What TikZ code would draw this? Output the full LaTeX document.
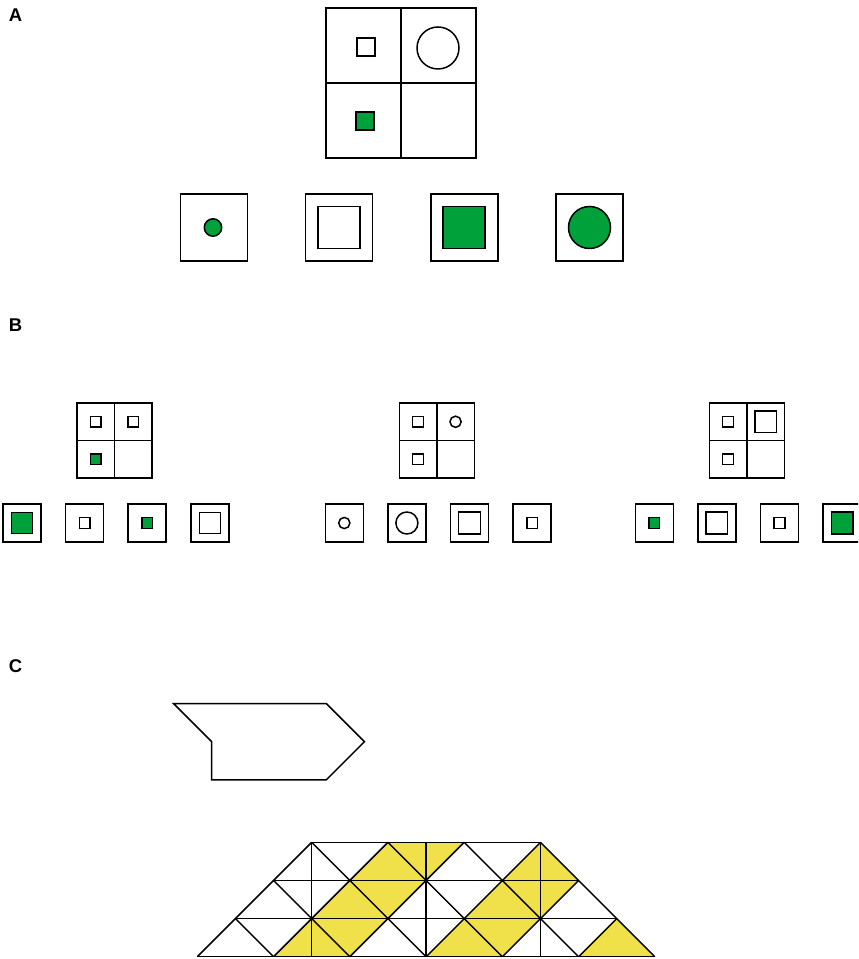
\documentclass[tikz,border=0pt]{standalone}
\usepackage{fontspec}
\setsansfont{Liberation Sans}
\definecolor{shapegreen}{RGB}{0,160,58}
\definecolor{tileyellow}{RGB}{240,224,74}

\tikzset{
    wsq/.pic={\draw (-#1,-#1) rectangle (#1,#1);},
    gsq/.pic={\draw[fill=shapegreen] (-#1,-#1) rectangle (#1,#1);},
    wcirc/.pic={\draw (0,0) circle[radius=#1];},
    gcirc/.pic={\draw[fill=shapegreen] (0,0) circle[radius=#1];},
    panellabel/.style={font=\sffamily\bfseries\fontsize{10.5}{12}\selectfont}
}

\begin{document}
\begin{tikzpicture}[
    x=0.02cm, y=-0.02cm,
    line width=0.85pt
]
% page: 858 x 959 units, y going down
\useasboundingbox (0,0) rectangle (858,959);
\clip (0,0) rectangle (858,959);

% Panel labels
\node[panellabel] (labA) at (15.5,15.5) {A};
\node[panellabel] (labB) at (15.5,325) {B};
\node[panellabel] (labC) at (15.5,666) {C};

% ---------- Panel A ----------
% matrix 2x2
\draw (326,8) rectangle (476,158);
\draw (401,8) -- (401,158);
\draw (326,83) -- (476,83);
\pic at (366,47) {wsq=9};
\pic at (438,48) {wcirc=21};
\pic at (365,121) {gsq=9};

% answer options
\foreach \k in {0,...,3}
    \draw (180.5+\k*125.2,194) rectangle ++(67,67);
\pic at (213,227.5) {gcirc=8.7};
\pic at (339,227.5) {wsq=21};
\pic at (464,227.5) {gsq=21};
\pic at (589.5,227.5) {gcirc=21};

% ---------- Panel B ----------
% matrix + option boxes for each of the three items
\foreach \gx in {3,325.3,635.3} {
    \begin{scope}[shift={(\gx,0)}]
        \draw (74,403) rectangle (149,478);
        \draw (111.5,403) -- (111.5,478);
        \draw (74,440.5) -- (149,440.5);
        \foreach \k in {0,...,3}
            \draw (\k*62.6,504) rectangle ++(38,38);
    \end{scope}
}

% item 1
\begin{scope}[shift={(3,0)}]
    \pic at (92.75,421.75) {wsq=5.35};
    \pic at (130.25,421.75) {wsq=5.35};
    \pic at (92.75,459.25) {gsq=5.35};
    \pic at (19,523) {gsq=10.5};
    \pic at (81.6,523) {wsq=5.35};
    \pic at (144.2,523) {gsq=5.35};
    \pic at (206.8,523) {wsq=10.5};
\end{scope}

% item 2
\begin{scope}[shift={(325.3,0)}]
    \pic at (92.75,421.75) {wsq=5.35};
    \pic at (130.25,421.75) {wcirc=5.6};
    \pic at (92.75,459.25) {wsq=5.35};
    \pic at (19,523) {wcirc=5.6};
    \pic at (81.6,523) {wcirc=11};
    \pic at (144.2,523) {wsq=10.8};
    \pic at (206.8,523) {wsq=5.35};
\end{scope}

% item 3
\begin{scope}[shift={(635.3,0)}]
    \pic at (92.75,421.75) {wsq=5.35};
    \pic at (130.25,421.75) {wsq=10.8};
    \pic at (92.75,459.25) {wsq=5.35};
    \pic at (19,523) {gsq=5.35};
    \pic at (81.6,523) {wsq=10.8};
    \pic at (144.2,523) {wsq=5.35};
    \pic at (206.8,523) {gsq=10.8};
\end{scope}

% ---------- Panel C ----------
% target piece
\begin{scope}[shift={(173.5,703.5)}, x=0.764cm, y=-0.764cm]
    \draw (0,0) -- (4,0) -- (5,1) -- (4,2) -- (1,2) -- (1,1) -- cycle;
\end{scope}

% triangle board (unit = one row)
\begin{scope}[shift={(197.3,956.7)}, x=0.7628cm, y=0.7628cm]
    % yellow bands
    \fill[tileyellow] (2,0) -- (4,0) -- (7,3) -- (5,3) -- cycle;
    \fill[tileyellow] (6,0) -- (8,0) -- (10,2) -- (9,3) -- (8,2) -- cycle;
    \fill[tileyellow] (10,0) -- (12,0) -- (11,1) -- cycle;
    % rows
    \foreach \r in {0,...,3}
        \draw (\r,\r) -- (12-\r,\r);
    % verticals
    \foreach \v in {3,6,9}
        \draw (\v,0) -- (\v,3);
    % diagonals
    \foreach \c [evaluate=\c as \len using {min(3,(12-\c)/2)}] in {0,2,...,10}
        \draw (\c,0) -- ++(\len,\len);
    \foreach \c [evaluate=\c as \len using {min(3,\c/2)}] in {2,4,...,12}
        \draw (\c,0) -- ++(-\len,\len);
\end{scope}

\end{tikzpicture}
\end{document}
